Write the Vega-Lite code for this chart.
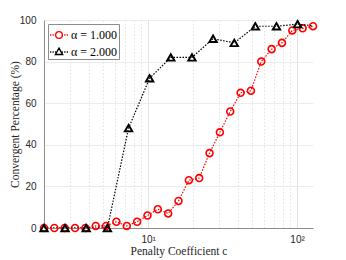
{
  "$schema": "https://vega.github.io/schema/vega-lite/v6.json",
  "width": 269,
  "height": 208,
  "autosize": "none",
  "padding": {"left": 44, "top": 20, "right": 33, "bottom": 32},
  "background": "white",
  "view": {"stroke": null},
  "data": {
    "values": [
      {"c": 2, "pct": 0, "series": "α = 1.000"},
      {"c": 2.347, "pct": 0, "series": "α = 1.000"},
      {"c": 2.754, "pct": 0, "series": "α = 1.000"},
      {"c": 3.232, "pct": 0, "series": "α = 1.000"},
      {"c": 3.793, "pct": 0, "series": "α = 1.000"},
      {"c": 4.45, "pct": 1, "series": "α = 1.000"},
      {"c": 5.222, "pct": 1, "series": "α = 1.000"},
      {"c": 6.128, "pct": 3, "series": "α = 1.000"},
      {"c": 7.191, "pct": 1, "series": "α = 1.000"},
      {"c": 8.438, "pct": 3, "series": "α = 1.000"},
      {"c": 9.902, "pct": 6, "series": "α = 1.000"},
      {"c": 11.62, "pct": 9, "series": "α = 1.000"},
      {"c": 13.64, "pct": 7, "series": "α = 1.000"},
      {"c": 16, "pct": 13, "series": "α = 1.000"},
      {"c": 18.78, "pct": 23, "series": "α = 1.000"},
      {"c": 22.03, "pct": 24, "series": "α = 1.000"},
      {"c": 25.85, "pct": 36, "series": "α = 1.000"},
      {"c": 30.34, "pct": 46, "series": "α = 1.000"},
      {"c": 35.6, "pct": 56, "series": "α = 1.000"},
      {"c": 41.78, "pct": 65, "series": "α = 1.000"},
      {"c": 49.02, "pct": 66, "series": "α = 1.000"},
      {"c": 57.53, "pct": 80, "series": "α = 1.000"},
      {"c": 67.51, "pct": 86, "series": "α = 1.000"},
      {"c": 79.22, "pct": 89, "series": "α = 1.000"},
      {"c": 92.96, "pct": 95, "series": "α = 1.000"},
      {"c": 109.1, "pct": 96, "series": "α = 1.000"},
      {"c": 128, "pct": 97, "series": "α = 1.000"},
      {"c": 2, "pct": 0, "series": "α = 2.000"},
      {"c": 2.77, "pct": 0, "series": "α = 2.000"},
      {"c": 3.84, "pct": 0, "series": "α = 2.000"},
      {"c": 5.33, "pct": 0, "series": "α = 2.000"},
      {"c": 7.39, "pct": 48, "series": "α = 2.000"},
      {"c": 10.24, "pct": 72, "series": "α = 2.000"},
      {"c": 14.2, "pct": 82, "series": "α = 2.000"},
      {"c": 19.7, "pct": 82, "series": "α = 2.000"},
      {"c": 27.3, "pct": 91, "series": "α = 2.000"},
      {"c": 37.9, "pct": 89, "series": "α = 2.000"},
      {"c": 52.5, "pct": 97, "series": "α = 2.000"},
      {"c": 72.8, "pct": 97, "series": "α = 2.000"},
      {"c": 100.9, "pct": 98, "series": "α = 2.000"},
      {"c": 139.9, "pct": 97, "series": "α = 2.000"}
    ]
  },
  "encoding": {
    "x": {
      "field": "c", "type": "quantitative",
      "scale": {"type": "log", "domain": [2, 128], "nice": false, "zero": false},
      "axis": {
        "title": "Penalty Coefficient c",
        "titleFont": "Liberation Serif", "titleFontSize": 11.5, "titleFontWeight": "normal", "titleColor": "#262626",
        "titlePadding": 1,
        "values": [2, 3, 4, 5, 6, 7, 8, 9, 10, 20, 30, 40, 50, 60, 70, 80, 90, 100],
        "labelExpr": "datum.value == 10 ? '10¹' : (datum.value == 100 ? '10²' : '')",
        "labelFont": "Liberation Sans", "labelFontSize": 10, "labelColor": "#262626",
        "labelPadding": 6, "labelDx": -5,
        "ticks": false,
        "domainColor": "#8c8c8c", "domainWidth": 1,
        "grid": true,
        "gridColor": "#e3e3e3",
        "gridDash": {"condition": {"test": "datum.value == 10 || datum.value == 100", "value": []}, "value": [1.5, 2]}
      }
    },
    "y": {
      "field": "pct", "type": "quantitative",
      "scale": {"domain": [0, 100], "nice": false},
      "axis": {
        "title": "Convergent Percentage (%)",
        "titleFont": "Liberation Serif", "titleFontSize": 11.5, "titleFontWeight": "normal", "titleColor": "#262626",
        "titlePadding": -1,
        "values": [0, 20, 40, 60, 80, 100],
        "labelFont": "Liberation Sans", "labelFontSize": 10, "labelColor": "#262626",
        "labelPadding": 8,
        "ticks": false,
        "domainColor": "#8c8c8c", "domainWidth": 1,
        "grid": true, "gridColor": "#ebebeb"
      }
    }
  },
  "layer": [
    {
      "transform": [{"filter": "datum.series == 'α = 1.000'"}],
      "mark": {"type": "line", "color": "#ff0000", "strokeWidth": 1.2, "strokeDash": [1.5, 1.5], "clip": true}
    },
    {
      "transform": [{"filter": "datum.series == 'α = 1.000'"}],
      "mark": {"type": "point", "shape": "circle", "filled": false, "color": "#ff0000", "size": 48, "strokeWidth": 1.6, "opacity": 1}
    },
    {
      "transform": [{"filter": "datum.series == 'α = 2.000'"}],
      "mark": {"type": "line", "color": "#000000", "strokeWidth": 1.2, "strokeDash": [1.5, 1.5], "clip": true}
    },
    {
      "transform": [{"filter": "datum.series == 'α = 2.000' && datum.c < 130"}],
      "mark": {"type": "point", "shape": "triangle-up", "filled": false, "color": "#000000", "size": 55, "strokeWidth": 1.9, "opacity": 1}
    },
    {
      "transform": [{"filter": "datum.c < 130"}],
      "mark": {"type": "point", "filled": false, "opacity": 0, "size": 324},
      "encoding": {
        "color": {
          "field": "series", "type": "nominal",
          "scale": {"domain": ["α = 1.000", "α = 2.000"], "range": ["#ff0000", "#000000"]},
          "legend": {
            "title": null, "orient": "top-left", "offset": 4,
            "padding": 1, "rowPadding": -5,
            "strokeColor": "#8c8c8c", "fillColor": "white", "cornerRadius": 0,
            "labelFont": "Liberation Serif", "labelFontSize": 12, "labelColor": "#000000",
            "labelOffset": 2, "symbolSize": 324, "symbolStrokeWidth": 1.4, "symbolOpacity": 1,
            "symbolFillColor": "transparent"
          }
        },
        "shape": {
          "field": "series", "type": "nominal",
          "scale": {
            "domain": ["α = 1.000", "α = 2.000"],
            "range": [
              "M-1,0L-0.86,0M-0.72,0L-0.58,0M-0.44,0L-0.37,0M0.37,0L0.44,0M0.58,0L0.72,0M0.86,0L1,0M-0.37,0A0.37,0.37,0,1,1,0.37,0A0.37,0.37,0,1,1,-0.37,0Z",
              "M-1,0L-0.86,0M-0.72,0L-0.58,0M-0.44,0L-0.34,0M0.34,0L0.44,0M0.58,0L0.72,0M0.86,0L1,0M0,-0.42L0.4,0.28L-0.4,0.28Z"
            ]
          },
          "legend": {
            "title": null, "orient": "top-left", "offset": 4,
            "padding": 1, "rowPadding": -5,
            "strokeColor": "#8c8c8c", "fillColor": "white", "cornerRadius": 0,
            "labelFont": "Liberation Serif", "labelFontSize": 12, "labelColor": "#000000",
            "labelOffset": 2, "symbolSize": 324, "symbolStrokeWidth": 1.4, "symbolOpacity": 1,
            "symbolFillColor": "transparent"
          }
        }
      }
    }
  ]
}
